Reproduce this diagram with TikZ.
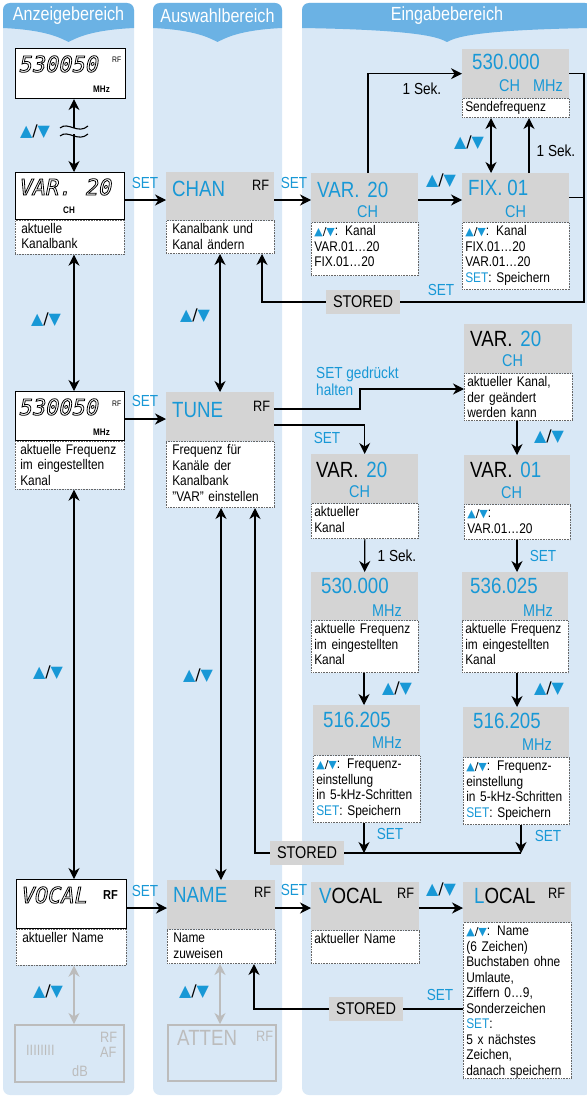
\documentclass[tikz,border=0pt]{standalone}
\usepackage{fontspec}
\setmainfont{Liberation Sans}[FakeStretch=0.85]
\newfontfamily\trifont{DejaVu Sans}
\newfontfamily\segfont{DejaVu Sans Mono}[FakeSlant=0.2]
\usetikzlibrary{arrows.meta}

\definecolor{panelblue}{RGB}{217,232,246}
\definecolor{tabblue}{RGB}{107,178,228}
\definecolor{skyblue}{RGB}{24,152,214}
\definecolor{boxgray}{RGB}{212,212,212}
\definecolor{deadgray}{RGB}{188,188,188}

\newcommand{\desctxt}{\fontsize{14}{15.5}\selectfont}
\newcommand{\bigtxt}{\fontsize{22}{24}\selectfont}
\newcommand{\unittxt}{\fontsize{17}{19}\selectfont}
\newcommand{\rftxt}{\fontsize{15}{17}\selectfont}
\newcommand{\settxt}{\fontsize{16}{17}\selectfont}
\newcommand{\tabtxt}{\fontsize{19}{21}\selectfont}
\newcommand{\segtxt}{\fontsize{22}{24}\selectfont\segfont}
\newcommand{\updn}{{\trifont\textcolor{skyblue}{▲}/\textcolor{skyblue}{▼}}}
\newcommand{\updnsm}{{\trifont\fontsize{11}{12}\selectfont\textcolor{skyblue}{▲}/\textcolor{skyblue}{▼}}}
\newcommand{\lcdtext}[1]{\special{pdf:literal direct 1 Tr 0.8 w}#1\special{pdf:literal direct 0 Tr}}

\tikzset{
  >={Stealth[length=11pt,width=11pt,inset=3.5pt]},
  panel/.style={fill=panelblue, rounded corners=7pt},
  tabshape/.style={fill=tabblue},
  tabtext/.style={text=white, font=\tabtxt, inner sep=0pt},
  hdr/.style={fill=boxgray, anchor=north west, inner sep=0pt},
  lcd/.style={draw=black, line width=1.1pt, fill=white, anchor=north west, inner sep=0pt},
  dead/.style={draw=deadgray, line width=1.6pt, anchor=north west, inner sep=0pt},
  desc/.style={draw=black!60, densely dotted, line width=0.6pt, fill=white, anchor=north west,
    align=left, inner xsep=3pt, inner ysep=2pt, text width=101pt, text height=11pt, font=\desctxt},
  segnum/.style={anchor=base west, inner sep=0pt, font=\segtxt},
  lcdsmall/.style={anchor=base west, inner sep=0pt, font=\fontsize{8}{9}\selectfont},
  lcdbold/.style={anchor=base west, inner sep=0pt, font=\fontsize{9.5}{10}\selectfont\bfseries},
  big/.style={anchor=base west, inner sep=0pt, text=skyblue, font=\bigtxt},
  unit/.style={anchor=base west, inner sep=0pt, text=skyblue, font=\unittxt},
  rf/.style={anchor=base west, inner sep=0pt, font=\rftxt},
  deadtxt/.style={anchor=base west, inner sep=0pt, text=deadgray, font=\rftxt},
  setlab/.style={text=skyblue, font=\settxt, inner sep=0pt},
  plainlab/.style={font=\settxt, inner sep=0pt},
  keylab/.style={font=\settxt, inner sep=0pt},
  storedbox/.style={fill=boxgray, font=\fontsize{17}{18}\selectfont, inner xsep=7pt, inner ysep=0pt, minimum height=24pt},
  conn/.style={line width=1.1pt},
  arr/.style={conn, ->},
  darr/.style={conn, <->},
  deadarr/.style={draw=deadgray, line width=1.6pt, <->}
}

\begin{document}
\begin{tikzpicture}[x=1pt,y=-1pt]
\useasboundingbox (0,0) rectangle (586,1097);

% the three areas
\foreach \xa/\xb/\xc/\tabname in {3/134/68.5/Anzeigebereich, 153/282/217.5/Auswahlbereich, 302/592/447/Eingabebereich} {
  \fill[panel] (\xa,3) rectangle (\xb,1095);
  \fill[tabshape] (\xa,28) [rounded corners=7pt] -- (\xa,3) -- (\xb,3) [sharp corners] -- (\xb,28)
    .. controls (\xc+22,30) and (\xc+8,38) .. (\xc,42) .. controls (\xc-8,38) and (\xc-22,30) .. (\xa,28) -- cycle;
  \node[tabtext] (tab\tabname) at (\xc,16) {\tabname};
}

% display column
\node[lcd, minimum width=110, minimum height=50] (showFreq) at (15,48) {};
\node[segnum] (showFreqNum) at (18,72) {\lcdtext{530050}};
\node[lcdsmall] (showFreqRF) at (112,63) {RF};
\node[lcdbold] (showFreqUnit) at (93,93) {MHz};

\node[lcd, minimum width=109, minimum height=47] (showChan) at (15,172) {};
\node[segnum] (showChanNum) at (18,195) {\lcdtext{VAR. 20}};
\node[lcdbold] (showChanUnit) at (63,213) {CH};
\node[desc, inner xsep=6pt, text width=97pt, text depth=19pt] (showChanTxt) at (showChan.south west) {aktuelle\\Kanalbank};

\node[lcd, minimum width=109, minimum height=49] (showTune) at (15,391) {};
\node[segnum] (showTuneNum) at (18,415) {\lcdtext{530050}};
\node[lcdsmall] (showTuneRF) at (112,406) {RF};
\node[lcdbold] (showTuneUnit) at (93,435) {MHz};
\node[desc, inner xsep=5pt, text width=99pt, text depth=33pt] (showTuneTxt) at (showTune.south west) {\mbox{aktuelle Frequenz}\\im eingestellten\\Kanal};

\node[lcd, minimum width=110, minimum height=49] (showName) at (16,879) {};
\node[segnum] (showNameNum) at (20,903) {\lcdtext{VOCAL}};
\node[rf, font=\fontsize{13}{15}\selectfont\bfseries] (showNameRF) at (103,899) {RF};
\node[desc, inner xsep=6pt, text width=98pt, text depth=21pt] (showNameTxt) at (showName.south west) {aktueller Name};

\node[dead, minimum width=109, minimum height=57] (showLevel) at (14,1024) {};
\node[deadtxt] (showLevelBar) at (26,1055) {IIIIIIII};
\node[deadtxt] (showLevelRF) at (100,1042) {RF};
\node[deadtxt] (showLevelAF) at (100,1057) {AF};
\node[deadtxt] (showLevelDB) at (72,1076) {dB};

% select column
\node[hdr, minimum width=108, minimum height=48] (chan) at (166,172) {};
\node[big] (chanLbl) at (172,196) {CHAN};
\node[rf] (chanRF) at (252,190) {RF};
\node[desc, inner xsep=6pt, text width=96pt, text depth=18pt] (chanTxt) at (chan.south west) {Kanalbank und\\Kanal ändern};

\node[hdr, minimum width=108, minimum height=49] (tune) at (166,392) {};
\node[big] (tuneLbl) at (172,417) {TUNE};
\node[rf] (tuneRF) at (253,411) {RF};
\node[desc, inner xsep=6pt, text width=96pt, text depth=51pt] (tuneTxt) at (tune.south west) {Frequenz für\\Kanäle der\\Kanalbank\\"VAR" einstellen};

\node[hdr, minimum width=108, minimum height=49] (nameSel) at (167,880) {};
\node[big] (nameSelLbl) at (173,902) {NAME};
\node[rf] (nameSelRF) at (254,897) {RF};
\node[desc, inner xsep=6pt, text width=96pt, text depth=19pt] (nameSelTxt) at (nameSel.south west) {Name\\zuweisen};

\node[dead, minimum width=108, minimum height=56] (atten) at (167,1024) {};
\node[deadtxt, font=\bigtxt] (attenLbl) at (177,1045) {ATTEN};
\node[deadtxt] (attenRF) at (256,1041) {RF};

% input column, channel bank
\node[hdr, minimum width=107, minimum height=49] (chanVar) at (311,173) {};
\node[big] (chanVarLbl) at (317,197) {VAR.\hspace{8pt}20};
\node[unit] (chanVarCH) at (357,217) {CH};
\node[desc, text depth=38pt] (chanVarTxt) at (chanVar.south west) {\updnsm: Kanal\\VAR.01…20\\FIX.01…20};

\node[hdr, minimum width=107, minimum height=49] (send) at (462,49) {};
\node[big] (sendLbl) at (472,70) {530.000};
\node[unit] (sendCH) at (499,92) {CH};
\node[unit] (sendMHz) at (533,92) {MHz};
\node[desc, text depth=4pt] (sendTxt) at (send.south west) {Sendefrequenz};

\node[hdr, minimum width=107, minimum height=49] (fix) at (462,173) {};
\node[big] (fixLbl) at (468,195) {FIX.\hspace{5pt}01};
\node[unit] (fixCH) at (505,217) {CH};
\node[desc, text depth=52pt] (fixTxt) at (fix.south west) {\updnsm: Kanal\\FIX.01…20\\VAR.01…20\\\textcolor{skyblue}{SET}: Speichern};

% input column, tuning
\node[hdr, minimum width=107, minimum height=49] (tuneVar) at (311,454) {};
\node[big, text=black] (tuneVarLbl) at (316,477) {VAR.\hspace{8pt}\textcolor{skyblue}{20}};
\node[unit] (tuneVarCH) at (349,497) {CH};
\node[desc, text depth=20pt] (tuneVarTxt) at (tuneVar.south west) {aktueller\\Kanal};

\node[hdr, minimum width=107, minimum height=48] (tuneFreq) at (311,572) {};
\node[big] (tuneFreqLbl) at (321,593) {530.000};
\node[unit] (tuneFreqMHz) at (372,616) {MHz};
\node[desc, text depth=37pt] (tuneFreqTxt) at (tuneFreq.south west) {aktuelle Frequenz\\im eingestellten\\Kanal};

\node[hdr, minimum width=107, minimum height=50] (tuneStep) at (313,705) {};
\node[big] (tuneStepLbl) at (323,727) {516.205};
\node[unit] (tuneStepMHz) at (372,748) {MHz};
\node[desc, text depth=52pt] (tuneStepTxt) at (tuneStep.south west) {\updnsm: Frequenz-\\einstellung\\\mbox{in 5-kHz-Schritten}\\\textcolor{skyblue}{SET}: Speichern};

\node[hdr, minimum width=108, minimum height=49] (holdVar) at (464,324) {};
\node[big, text=black] (holdVarLbl) at (470,346) {VAR.\hspace{8pt}\textcolor{skyblue}{20}};
\node[unit] (holdVarCH) at (502,366) {CH};
\node[desc, text width=102pt, text depth=32pt] (holdVarTxt) at (holdVar.south west) {aktueller Kanal,\\der geändert\\werden kann};

\node[hdr, minimum width=106, minimum height=49] (holdNew) at (464,455) {};
\node[big, text=black] (holdNewLbl) at (470,477) {VAR.\hspace{8pt}\textcolor{skyblue}{01}};
\node[unit] (holdNewCH) at (501,498) {CH};
\node[desc, text width=100pt, text depth=20pt] (holdNewTxt) at (holdNew.south west) {\updnsm:\\VAR.01…20};

\node[hdr, minimum width=106, minimum height=48] (holdFreq) at (462,572) {};
\node[big] (holdFreqLbl) at (470,593) {536.025};
\node[unit] (holdFreqMHz) at (523,616) {MHz};
\node[desc, text width=100pt, text depth=37pt] (holdFreqTxt) at (holdFreq.south west) {aktuelle Frequenz\\im eingestellten\\Kanal};

\node[hdr, minimum width=106, minimum height=50] (holdStep) at (463,707) {};
\node[big] (holdStepLbl) at (473,728) {516.205};
\node[unit] (holdStepMHz) at (522,750) {MHz};
\node[desc, text width=100pt, text depth=52pt] (holdStepTxt) at (holdStep.south west) {\updnsm: Frequenz-\\einstellung\\\mbox{in 5-kHz-Schritten}\\\textcolor{skyblue}{SET}: Speichern};

% input column, name
\node[hdr, minimum width=108, minimum height=48] (vocal) at (311,882) {};
\node[big, text=black] (vocalLbl) at (319,903) {\textcolor{skyblue}{V}OCAL};
\node[rf] (vocalRF) at (397,898) {RF};
\node[desc, text width=102pt, text depth=18pt] (vocalTxt) at (vocal.south west) {aktueller Name};

\node[hdr, minimum width=108, minimum height=40] (local) at (463,882) {};
\node[big, text=black] (localLbl) at (474,903) {\textcolor{skyblue}{L}OCAL};
\node[rf] (localRF) at (548,898) {RF};
\node[desc, text width=102pt, text depth=141pt] (localTxt) at (local.south west) {\updnsm: Name\\(6 Zeichen)\\Buchstaben ohne\\Umlaute,\\Ziffern 0…9,\\Sonderzeichen\\\textcolor{skyblue}{SET}:\\5 x nächstes\\Zeichen,\\danach speichern};

\node[storedbox] (storedChan) at (363,302) {STORED};
\node[storedbox] (storedTune) at (307,853) {STORED};
\node[storedbox] (storedName) at (366,1009) {STORED};
\coordinate (rightBot) at (584,302);
\coordinate (holdBend) at (360,389);
\coordinate (stepEnd) at (521,853);

% display column links
\draw[darr] (74,0 |- showFreq.south) -- (74,0 |- showChan.north);
\fill[panelblue] (64,128) rectangle (84,134);
\draw[conn] (60,128) .. controls (68,121) and (78,135) .. (88,126);
\draw[conn] (60,136) .. controls (68,129) and (78,143) .. (88,134);
\node[keylab] (keyShowA) at (35,132) {\updn};
\draw[arr] (showChan.east |- 0,200) -- (chan.west |- 0,200);
\node[setlab] (setShowA) at (145,183) {SET};
\draw[darr] (74,0 |- showChanTxt.south) -- (74,0 |- showTune.north);
\node[keylab] (keyShowB) at (46,320) {\updn};
\draw[arr] (showTune.east |- 0,419) -- (tune.west |- 0,419);
\node[setlab] (setShowB) at (145,401) {SET};
\draw[darr] (74,0 |- showTuneTxt.south) -- (74,0 |- showName.north);
\node[keylab] (keyShowC) at (48,673) {\updn};
\draw[arr] (showName.east |- 0,908) -- (nameSel.west |- 0,908);
\node[setlab] (setShowC) at (145,891) {SET};
\draw[deadarr] (74,0 |- showNameTxt.south) -- (74,0 |- showLevel.north);
\node[keylab] (keyShowD) at (48,992) {\updn};

% select column links
\draw[darr] (220,0 |- chanTxt.south) -- (220,0 |- tune.north);
\node[keylab] (keySelA) at (195,316) {\updn};
\draw[darr] (221,0 |- tuneTxt.south) -- (221,0 |- nameSel.north);
\node[keylab] (keySelB) at (198,676) {\updn};
\draw[deadarr] (220,0 |- nameSelTxt.south) -- (220,0 |- atten.north);
\node[keylab] (keySelC) at (194,992) {\updn};
\draw[arr] (chan.east |- 0,200) -- (chanVar.west |- 0,200);
\node[setlab] (setSelA) at (294,183) {SET};
\draw[arr] (nameSel.east |- 0,908) -- (vocal.west |- 0,908);
\node[setlab] (setSelB) at (294,890) {SET};

% channel bank links
\draw[arr] (368,0 |- chanVar.north) |- (send.west);
\node[plainlab] (secA) at (422,89) {1 Sek.};
\draw[arr] (chanVar.east |- 0,200) -- (fix.west |- 0,200);
\node[keylab] (keyChanA) at (441,181) {\updn};
\draw[darr] (491,0 |- sendTxt.south) -- (491,0 |- fix.north);
\node[keylab] (keyChanB) at (469,143) {\updn};
\draw[arr] (529,0 |- fix.north) -- (529,0 |- sendTxt.south);
\node[plainlab] (secB) at (556,151) {1 Sek.};
\draw[conn] (send.east) -| (rightBot) -- (storedChan.east);
\draw[conn] (fix.east) -- (fix.east -| rightBot);
\draw[arr] (storedChan.west) -| (chanTxt.south -| 262,0);
\node[setlab] (setChan) at (441,290) {SET};

% tuning links
\draw[arr] (tune.east |- 0,409) -| (holdBend) -- (holdBend -| holdVarTxt.west);
\node[setlab, align=left, anchor=north west] (setHold) at (316,367) {SET gedrückt\\halten};
\draw[arr] (tune.east |- 0,425) -| (tuneVar.north);
\node[setlab] (setTune) at (327,438) {SET};
\draw[arr] (tuneVarTxt.south) -- (tuneFreq.north);
\node[plainlab] (secC) at (397,556) {1 Sek.};
\draw[arr] (364,0 |- tuneFreqTxt.south) -- (364,0 |- tuneStep.north);
\node[keylab] (keyTuneA) at (397,689) {\updn};
\draw[arr] (tuneStepTxt.south -| 364,0) -- (364,0 |- storedTune);
\node[setlab] (setTuneB) at (390,834) {SET};
\draw[arr] (517,0 |- holdVarTxt.south) -- (517,0 |- holdNew.north);
\node[keylab] (keyHoldA) at (549,437) {\updn};
\draw[arr] (517,0 |- holdNewTxt.south) -- (517,0 |- holdFreq.north);
\node[setlab] (setHoldB) at (543,556) {SET};
\draw[arr] (517,0 |- holdFreqTxt.south) -- (517,0 |- holdStep.north);
\node[keylab] (keyHoldB) at (549,689) {\updn};
\draw[arr] (holdStepTxt.south -| stepEnd) -- (stepEnd);
\node[setlab] (setHoldC) at (548,836) {SET};
\draw[conn] (stepEnd) -- (storedTune.east);
\draw[arr] (storedTune.west) -| (tuneTxt.south -| 255,0);

% name links
\draw[arr] (vocal.east |- 0,908) -- (local.west |- 0,908);
\node[keylab] (keyName) at (441,890) {\updn};
\draw[conn] (localTxt.west |- storedName) -- (storedName.east);
\draw[arr] (storedName.west) -| (nameSelTxt.south -| 254,0);
\node[setlab] (setName) at (440,995) {SET};
\end{tikzpicture}
\end{document}
